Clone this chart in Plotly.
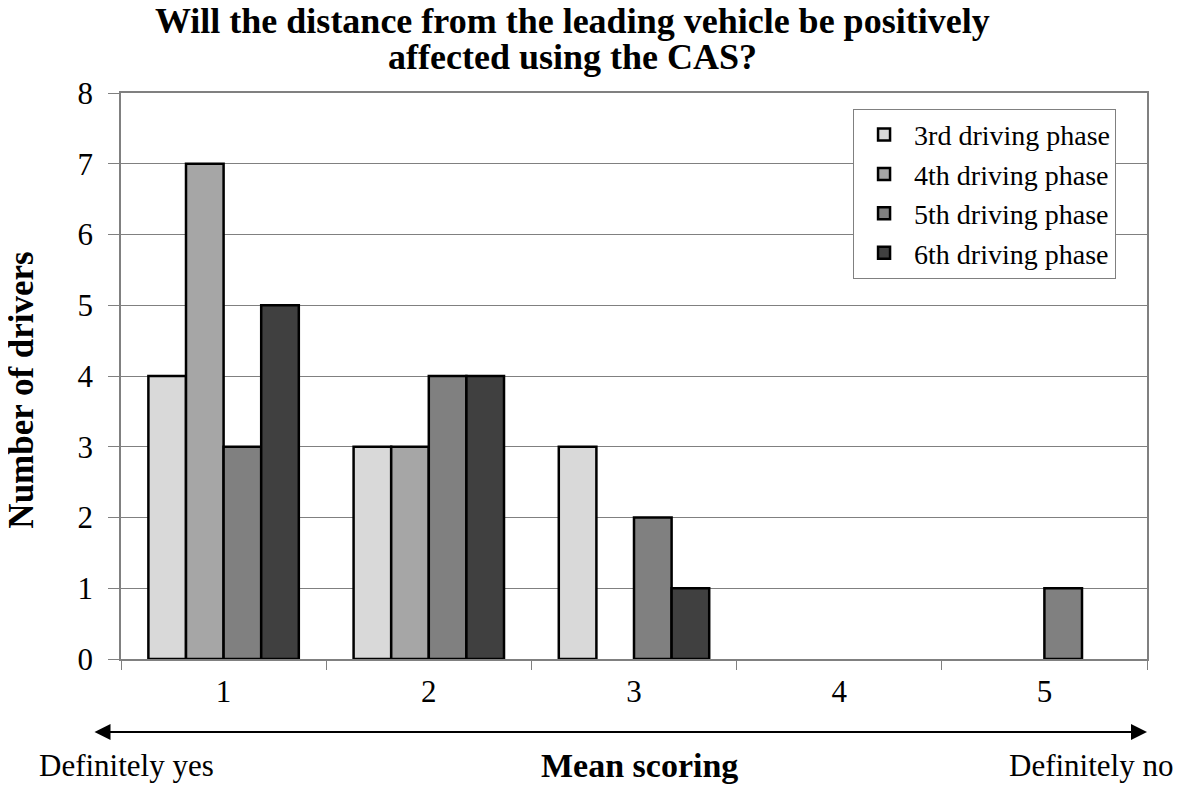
import plotly.graph_objects as go

categories = ["1", "2", "3", "4", "5"]
series_names = ["3rd driving phase", "4th driving phase", "5th driving phase", "6th driving phase"]
phase3 = [4, 3, 3, 0, 0]
phase4 = [7, 3, 0, 0, 0]
phase5 = [3, 4, 2, 0, 1]
phase6 = [5, 4, 1, 0, 0]
colors = ["#d9d9d9", "#a6a6a6", "#808080", "#404040"]
y_ticks = [0, 1, 2, 3, 4, 5, 6, 7, 8]

FONT = "Liberation Serif, Times New Roman, serif"

fig = go.Figure()
for i, (name, vals) in enumerate(zip(series_names, [phase3, phase4, phase5, phase6])):
    fig.add_trace(go.Bar(
        x=categories, y=[v if v else None for v in vals], name=name, legendgroup=f"g{i}",
        marker=dict(color=colors[i], line=dict(color="black", width=2.5)),
    ))

# page body has an 8px margin, so the figure is 8px smaller than the window
fig.update_layout(
    width=1173, height=781,
    margin=dict(l=113, r=34, t=85, b=130),
    paper_bgcolor="white", plot_bgcolor="white",
    barmode="group", bargap=0.267, bargroupgap=0,
    font=dict(family=FONT, size=28, color="black"),
    legend=dict(
        x=0.7135, y=0.972, xanchor="left", yanchor="top",
        bgcolor="white", bordercolor="#808080", borderwidth=1,
        font=dict(family=FONT, size=28, color="black"),
        tracegroupgap=5, traceorder="normal", itemwidth=50,
        entrywidth=286, entrywidthmode="pixels",
    ),
    showlegend=True,
)

fig.update_xaxes(
    type="category", categoryorder="array", categoryarray=categories,
    showline=True, linecolor="#808080", linewidth=1.5, mirror=True,
    ticks="outside", tickson="boundaries", ticklen=9, tickcolor="#808080",
    showgrid=False, tickfont=dict(family=FONT, size=31, color="black"),
    ticklabelstandoff=4,
)
fig.update_yaxes(
    range=[0, 8], tickvals=y_ticks, ticktext=[str(v) for v in y_ticks],
    showline=True, linecolor="#808080", linewidth=1.5, mirror=True,
    ticks="outside", ticklen=11, tickcolor="#808080",
    showgrid=True, gridcolor="#808080", gridwidth=1,
    zeroline=False, tickfont=dict(family=FONT, size=31, color="black"),
    ticklabelstandoff=9,
)

# title (two lines, tight spacing)
fig.add_annotation(
    x=0.44, y=1.127, xref="paper", yref="paper", xanchor="center", yanchor="middle",
    text="<b>Will the distance from the leading vehicle be positively</b>", showarrow=False,
    font=dict(family=FONT, size=36, color="black"),
)
fig.add_annotation(
    x=0.44, y=1.0636, xref="paper", yref="paper", xanchor="center", yanchor="middle",
    text="<b>affected using the CAS?</b>", showarrow=False,
    font=dict(family=FONT, size=36, color="black"),
)
# y axis title
fig.add_annotation(
    x=-0.097, y=0.475, xref="paper", yref="paper", xanchor="center", yanchor="middle",
    text="<b>Number of drivers</b>", showarrow=False, textangle=-90,
    font=dict(family=FONT, size=35, color="black"),
)

# double-headed arrow under the axis
fig.add_annotation(
    x=1.0, y=-0.129, xref="paper", yref="paper",
    ax=-1054, ay=0, axref="pixel", ayref="pixel",
    text="", showarrow=True, arrowside="end+start",
    arrowhead=2, arrowsize=1.6, arrowwidth=2, arrowcolor="black",
)
fig.add_annotation(
    x=-0.0819, y=-0.189, xref="paper", yref="paper", xanchor="left", yanchor="middle",
    text="Definitely yes", showarrow=False, font=dict(family=FONT, size=31, color="black"),
)
fig.add_annotation(
    x=1.0273, y=-0.189, xref="paper", yref="paper", xanchor="right", yanchor="middle",
    text="Definitely no", showarrow=False, font=dict(family=FONT, size=31, color="black"),
)
fig.add_annotation(
    x=0.505, y=-0.189, xref="paper", yref="paper", xanchor="center", yanchor="middle",
    text="<b>Mean scoring</b>", showarrow=False, font=dict(family=FONT, size=34, color="black"),
)

fig.write_html("out.html")
